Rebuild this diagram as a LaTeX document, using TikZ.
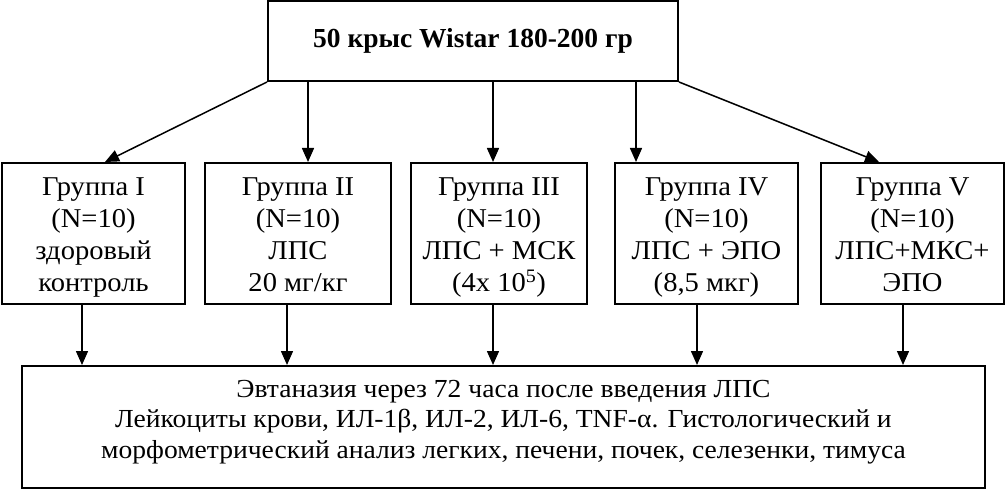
\documentclass[tikz,border=0pt]{standalone}
\usepackage{fontspec}
\setmainfont{Liberation Serif}
\newfontfamily\grpfont{Liberation Serif}[FakeStretch=1.05]
\newfontfamily\btmfont{Liberation Serif}[FakeStretch=1.06]
\usetikzlibrary{arrows.meta}
\begin{document}
\begin{tikzpicture}[x=1pt,y=-1pt,
  box/.style={draw,line width=2pt,inner sep=0pt},
  grptxt/.style={anchor=north,align=center,inner sep=0pt,
    font=\grpfont\fontsize{27.2}{32}\selectfont},
  btmtxt/.style={anchor=north,align=center,inner sep=0pt,
    font=\btmfont\fontsize{26}{30.5}\selectfont},
  arr/.style={line width=1.5pt,-{Triangle[length=14pt,width=12pt]}}]
\useasboundingbox (0,0) rectangle (1006,489);
\node[box,minimum width=410pt,minimum height=80pt,font=\fontsize{27.5}{35}\selectfont\bfseries] (top) at (473,41) {50 крыс Wistar 180-200 гр};
\node[box,minimum width=183pt,minimum height=141pt] (g1) at (93.5,233.5) {};
\node[box,minimum width=186pt,minimum height=141pt] (g2) at (298,233.5) {};
\node[box,minimum width=176pt,minimum height=141pt] (g3) at (499,233.5) {};
\node[box,minimum width=183pt,minimum height=141pt] (g4) at (706.5,233.5) {};
\node[box,minimum width=183pt,minimum height=141pt] (g5) at (912.5,233.5) {};
\node[box,minimum width=963pt,minimum height=122pt] (bot) at (503.5,427) {};
\node[grptxt] (g1t) at ([yshift=-10.6pt]g1.north) {\strut Группа I\\\strut(N=10)\\\strut здоровый\\\strut контроль};
\node[grptxt] (g2t) at ([yshift=-10.6pt]g2.north) {\strut Группа II\\\strut(N=10)\\\strut ЛПС\\\strut 20 мг/кг};
\node[grptxt] (g3t) at ([yshift=-10.6pt]g3.north) {\strut Группа III\\\strut(N=10)\\\strut ЛПС + МСК\\\strut(4х 10\textsuperscript{5})};
\node[grptxt] (g4t) at ([yshift=-10.6pt]g4.north) {\strut Группа IV\\\strut(N=10)\\\strut ЛПС + ЭПО\\\strut(8,5 мкг)};
\node[grptxt] (g5t) at ([yshift=-10.6pt]g5.north) {\strut Группа V\\\strut(N=10)\\\strut ЛПС+МКС+\\\strut ЭПО};
\node[btmtxt] (bott) at ([yshift=-10.6pt]bot.north) {\strut Эвтаназия через 72 часа после введения ЛПС\\\strut Лейкоциты крови, ИЛ-1β, ИЛ-2, ИЛ-6, TNF-α. Гистологический и\\\strut морфометрический анализ легких, печени, почек, селезенки, тимуса};
\coordinate (t1) at (105,0);
\coordinate (t2) at (308,0);
\coordinate (t3) at (493,0);
\coordinate (t4) at (636,0);
\coordinate (t5) at (879,0);
\coordinate (b1) at (82,0);
\coordinate (b2) at (287,0);
\coordinate (b3) at (493,0);
\coordinate (b4) at (697,0);
\coordinate (b5) at (903,0);
\draw[arr] (top.south west) -- (g1.north -| t1);
\draw[arr] (top.south -| t2) -- (g2.north -| t2);
\draw[arr] (top.south -| t3) -- (g3.north -| t3);
\draw[arr] (top.south -| t4) -- (g4.north -| t4);
\draw[arr] (top.south east) -- (g5.north -| t5);
\draw[arr] (g1.south -| b1) -- (bot.north -| b1);
\draw[arr] (g2.south -| b2) -- (bot.north -| b2);
\draw[arr] (g3.south -| b3) -- (bot.north -| b3);
\draw[arr] (g4.south -| b4) -- (bot.north -| b4);
\draw[arr] (g5.south -| b5) -- (bot.north -| b5);
\end{tikzpicture}
\end{document}
